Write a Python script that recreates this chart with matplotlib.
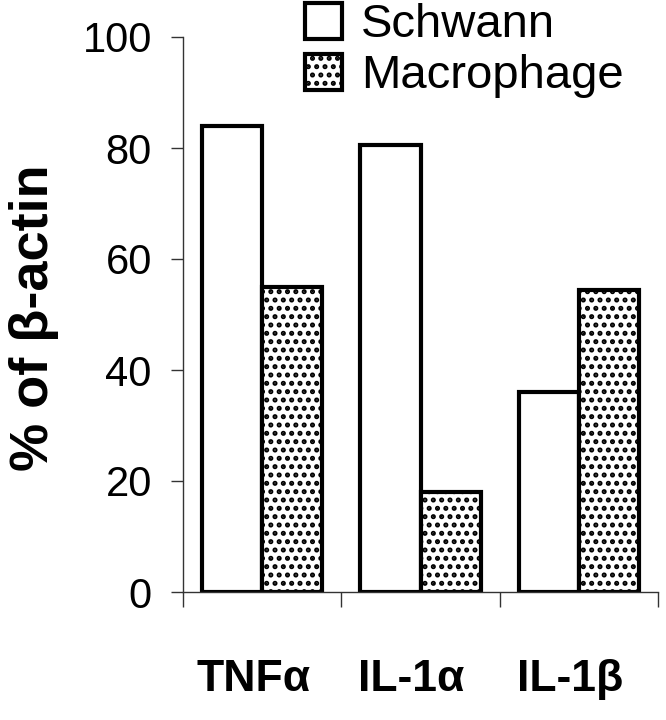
import matplotlib
matplotlib.use('Agg')
import matplotlib.pyplot as plt
from matplotlib.patches import Patch
from matplotlib.transforms import ScaledTranslation
import numpy as np

# values (% of beta-actin)
cytokines = ['TNF\u03b1', 'IL-1\u03b1', 'IL-1\u03b2']
schwann = [84, 80.5, 36]
macrophage = [55, 18, 54.5]
yticks = [0, 20, 40, 60, 80, 100]

plt.rcParams['font.family'] = ['Liberation Sans', 'DejaVu Sans']
plt.rcParams['hatch.linewidth'] = 2.4

fig = plt.figure(figsize=(6.66, 7.2), dpi=100)
ax = fig.add_axes([183/666, 1-592/720, (658-183)/666, (592-37)/720])

x = np.arange(len(cytokines))
w = 0.38
ax.bar(x - w/2, schwann, w, color='white', edgecolor='black', linewidth=3)
ax.bar(x + w/2, macrophage, w, color='white', edgecolor='black', linewidth=3,
       hatch='..')

ax.set_xlim(-0.5, 2.5)
ax.set_ylim(0, 100)
ax.spines['top'].set_visible(False)
ax.spines['right'].set_visible(False)
for s in ['left', 'bottom']:
    ax.spines[s].set_linewidth(1)
    ax.spines[s].set_color('#333333')

ax.set_yticks(yticks)
ax.tick_params(axis='y', direction='out', length=8.5, width=1, color='#333333',
               labelsize=30, pad=14)

ax.set_xticks(x)
ax.set_xticklabels(cytokines, fontsize=32, fontweight='bold')
ax.tick_params(axis='x', which='major', length=0, pad=48)
ax.set_xticks(np.arange(-0.5, 3, 1), minor=True)
ax.tick_params(axis='x', which='minor', direction='out', length=11, width=1,
               color='#333333')
shift = ScaledTranslation(-9/100, 0, fig.dpi_scale_trans)
for lab in ax.get_xticklabels():
    lab.set_transform(lab.get_transform() + shift)

fig.text(34/666, 1-318/720, '% of \u03b2-actin', rotation=90, fontsize=39,
         fontweight='bold', ha='center', va='center')

handles = [Patch(facecolor='white', edgecolor='black', linewidth=3),
           Patch(facecolor='white', edgecolor='black', linewidth=3, hatch='..')]
fig.legend(handles, ['Schwann', 'Macrophage'], loc='upper left',
           bbox_to_anchor=(305/666, 1-3/720), frameon=False, fontsize=34,
           handlelength=0.78, handleheight=0.78, handletextpad=0.4,
           labelspacing=0.15, borderpad=0, borderaxespad=0)

fig.savefig('out.png', dpi=100)
